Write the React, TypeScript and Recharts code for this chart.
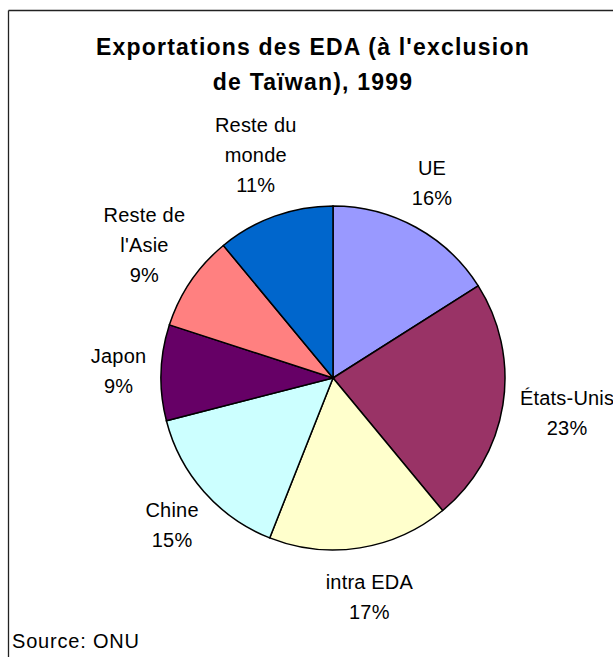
import React from "react";
import { PieChart, Pie, Cell, Customized } from "recharts";

// categories / values (% of exports), clockwise from 12 o'clock
const categories = ["UE", "États-Unis", "intra EDA", "Chine", "Japon", "Reste de\nl'Asie", "Reste du\nmonde"];
const shares = [16, 23, 17, 15, 9, 9, 11];
const colors = ["#9999FF", "#993366", "#FFFFCC", "#CCFFFF", "#660066", "#FF8080", "#0066CC"];
const titleLines = ["Exportations des EDA (à l'exclusion", "de Taïwan), 1999"];
const source = "Source: ONU";

const data = categories.map((name, i) => ({ name, value: shares[i] }));

const FONT = "'Liberation Sans', Arial, Helvetica, sans-serif";
const RADIAN = Math.PI / 180;
const LINE_H = 30;

// Excel-style outside label: text box pushed out along the slice bisector
function SliceLabel(props: any) {
    const { cx, cy, midAngle, outerRadius, name, percent } = props;
    const lines: string[] = [...String(name).split("\n"), `${Math.round(percent * 100)}%`];
    const ux = Math.cos(-midAngle * RADIAN);
    const uy = Math.sin(-midAngle * RADIAN);
    const w = Math.max(...lines.map((l) => l.length)) * 9;
    const h = lines.length * LINE_H;
    const r = outerRadius + 20;
    const x = cx + ux * r + ux * (w / 2);
    const y = cy + uy * r + uy * (h / 2);
    const top = y - h / 2;
    return (
        <text textAnchor="middle" fontFamily={FONT} fontSize={20} letterSpacing={0.2} fill="#000">
            {lines.map((l, i) => (
                <tspan key={i} x={x} y={top + LINE_H / 2 + i * LINE_H} dominantBaseline="central">
                    {l}
                </tspan>
            ))}
        </text>
    );
}

function Decor() {
    return (
        <g>
            <line x1={8.5} y1={10.5} x2={613} y2={10.5} stroke="#222" strokeWidth={1.3} />
            <line x1={8.5} y1={10.5} x2={8.5} y2={657} stroke="#222" strokeWidth={1.3} />
            {titleLines.map((t, i) => (
                <text
                    key={i}
                    x={313}
                    y={55 + i * 35}
                    textAnchor="middle"
                    fontFamily={FONT}
                    fontWeight="bold"
                    fontSize={23}
                    letterSpacing={1.2}
                    fill="#000"
                >
                    {t}
                </text>
            ))}
            <text x={12} y={648} fontFamily={FONT} fontSize={20} letterSpacing={0.8} fill="#000">
                {source}
            </text>
        </g>
    );
}

export default function App() {
    return (
        <div style={{ position: "absolute", left: 0, top: 0, width: 613, height: 657, background: "#fff" }}>
            <PieChart width={613} height={657} margin={{ top: 0, right: 0, bottom: 0, left: 0 }}>
                <Customized component={<Decor />} />
                <Pie
                    data={data}
                    dataKey="value"
                    nameKey="name"
                    cx={333}
                    cy={378}
                    outerRadius={172}
                    startAngle={90}
                    endAngle={-270}
                    stroke="#000"
                    strokeWidth={1.5}
                    label={<SliceLabel />}
                    labelLine={false}
                    isAnimationActive={false}
                >
                    {data.map((d, i) => (
                        <Cell key={d.name} fill={colors[i]} />
                    ))}
                </Pie>
            </PieChart>
        </div>
    );
}
